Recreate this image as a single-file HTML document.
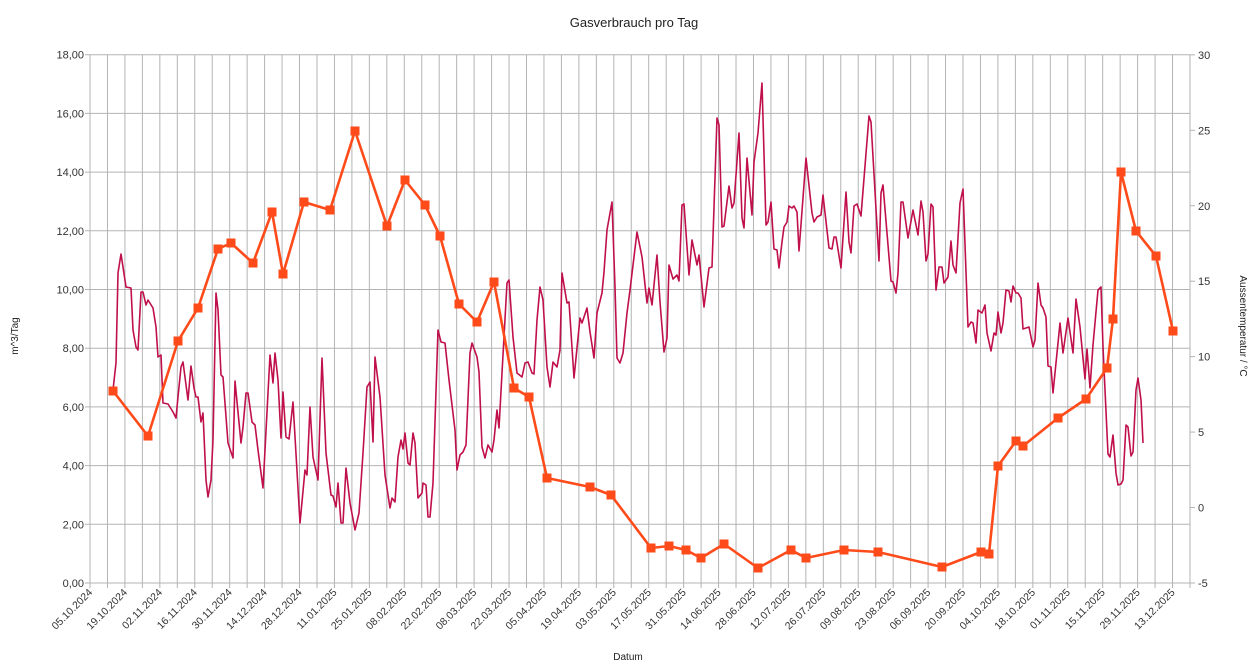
<!DOCTYPE html>
<html><head><meta charset="utf-8"><style>
html,body{margin:0;padding:0;background:#fff;}
svg{display:block;font-family:"Liberation Sans",sans-serif;}
</style></head><body>
<svg width="1260" height="670" viewBox="0 0 1260 670" xmlns="http://www.w3.org/2000/svg">
<rect width="1260" height="670" fill="#fff"/>
<g id="grid" stroke="#b3b3b3" stroke-width="1"></g>
<g id="labels" font-size="11" fill="#333"></g>
<text x="634" y="27" font-size="13" text-anchor="middle" fill="#222">Gasverbrauch pro Tag</text>
<text x="628" y="660" font-size="10" text-anchor="middle" fill="#222">Datum</text>
<text transform="translate(18,336) rotate(-90)" font-size="10" text-anchor="middle" fill="#222">m^3/Tag</text>
<text transform="translate(1240,326) rotate(90)" font-size="10" text-anchor="middle" fill="#222">Aussentemperatur / °C</text>
<polyline fill="none" stroke="#c0104a" stroke-width="1.6" stroke-linejoin="round" points="113,390 116,363 118,273 121,254 123,267 126,287 131,288 133,330 136,347 138,350 141,292 143,292 146,305 148,300 153,308 156,327 158,357 161,355 163,403 168,404 173,412 176,418 178,397 181,367 183,362 188,400 191,366 194,388 196,397 198,397 201,422 203,413 206,480 208,497 211,480 213,440 216,293 218,310 221,375 223,377 228,443 233,458 235,381 241,443 243,427 246,393 248,393 252,422 255,425 258,450 263,488 270,355 273,383 275,353 278,380 281,438 283,392 286,437 289,439 293,402 300,523 305,470 307,475 310,407 313,457 318,480 322,358 326,453 331,495 333,496 336,507 338,483 341,523 343,523 346,468 350,503 355,530 359,513 363,453 367,387 370,382 373,442 375,357 380,397 385,475 390,508 392,498 395,502 398,457 401,440 403,449 405,433 408,463 410,465 413,433 415,443 418,498 422,493 423,483 426,485 428,517 430,517 433,483 438,330 441,342 445,343 449,380 455,430 457,470 460,455 463,452 466,445 470,353 472,343 477,357 479,372 482,447 485,458 488,445 492,452 494,440 497,410 499,428 502,373 507,283 509,280 513,337 517,373 522,377 525,363 528,362 532,373 534,374 537,320 540,287 543,300 547,367 550,387 553,362 557,367 560,350 562,273 567,303 569,302 574,378 580,318 582,323 587,308 590,332 594,358 597,313 602,293 604,272 607,230 612,202 615,287 617,358 620,363 623,353 627,313 630,290 637,232 642,257 647,303 649,288 652,305 657,255 660,302 664,352 667,338 669,265 673,279 677,275 679,281 682,205 684,204 689,275 692,240 697,265 699,255 704,307 709,268 712,267 717,118 719,125 722,227 724,226 729,186 732,208 734,203 739,133 742,218 744,228 747,158 752,215 754,162 758,133 762,83 766,225 768,222 771,202 774,249 777,250 779,268 782,242 784,227 787,222 789,206 792,208 794,206 797,212 799,251 806,158 812,213 814,222 817,217 821,215 823,195 829,248 832,249 834,237 836,237 841,268 846,192 849,242 851,253 854,206 857,204 861,216 869,116 871,122 879,261 881,193 883,185 891,281 893,282 896,293 898,273 901,202 903,202 908,238 913,210 918,235 921,201 923,212 926,261 928,254 931,204 933,207 936,290 939,267 942,267 944,283 948,277 951,241 953,265 956,273 960,203 963,189 968,327 971,322 973,323 976,343 978,310 982,313 985,305 987,333 991,351 994,333 996,335 998,312 1001,333 1003,323 1006,290 1009,291 1011,302 1013,286 1016,293 1018,293 1021,298 1023,329 1029,327 1033,347 1035,340 1038,283 1041,305 1043,308 1046,317 1048,366 1051,367 1053,393 1060,323 1063,353 1068,318 1073,353 1076,299 1080,327 1085,379 1087,349 1090,388 1093,345 1098,290 1101,287 1103,347 1108,454 1110,457 1113,435 1116,473 1118,485 1121,484 1123,480 1126,425 1128,427 1131,456 1133,452 1136,390 1138,378 1141,400 1143,443"/>
<g id="gas"></g>
<script>
(function(){
var ns="http://www.w3.org/2000/svg";
var g=document.getElementById('grid'),L=document.getElementById('labels');
function el(p,t,a){var e=document.createElementNS(ns,t);for(var k in a)e.setAttribute(k,a[k]);p.appendChild(e);return e;}
var x0=90,x1=1190,top=55,bot=583,dx=17.46;
for(var i=0;i<=63;i++){var x=x0+i*dx;if(x>x1+1)break;el(g,'line',{x1:x,y1:top,x2:x,y2:bot+5});}
el(g,'line',{x1:x1,y1:top,x2:x1,y2:bot});
for(var v=0;v<=18;v+=2){var y=bot-v*29.35;el(g,'line',{x1:x0-5,y1:y,x2:x1,y2:y});
 var t=el(L,'text',{x:84,y:y+4,'text-anchor':'end'});t.textContent=v.toFixed(2).replace('.',',');}
for(var tv=-5;tv<=30;tv+=5){var y=bot-(tv+5)*15.09;el(g,'line',{x1:x1,y1:y,x2:x1+5,y2:y});
 var t=el(L,'text',{x:1198,y:y+4});t.textContent=tv;}
var d0=new Date(2024,9,5);
for(var k=0;k<=31;k++){var d=new Date(d0.getTime()+k*14*86400000+3600000*12);
 var s=('0'+d.getDate()).slice(-2)+'.'+('0'+(d.getMonth()+1)).slice(-2)+'.'+d.getFullYear();
 var x=x0+k*2*dx;var t=el(L,'text',{transform:'translate('+(x+3)+','+(bot+10)+') rotate(-45)','text-anchor':'end','font-size':'10.5'});t.textContent=s;}
var P=[[113,391],[148,436],[178,341],[198,308],[218,249],[231,243],[253,263],[272,212],[283,274],[304,202],[330,210],[355,131],[387,226],[405,180],[425,205],[440,236],[459,304],[477,322],[494,282],[514,388],[529,397],[547,478],[590,487],[611,495],[651,548],[669,546],[686,550],[701,558],[724,544],[758,568],[791,550],[806,558],[844,550],[878,552],[942,567],[981,552],[989,554],[998,466],[1016,441],[1023,446],[1058,418],[1086,399],[1107,368],[1113,319],[1121,172],[1136,231],[1156,256],[1173,331]];
var G=document.getElementById('gas');
el(G,'polyline',{points:P.map(function(p){return p.join(',')}).join(' '),fill:'none',stroke:'#ff4a1a','stroke-width':2.6,'stroke-linejoin':'round'});
P.forEach(function(p){el(G,'rect',{x:p[0]-4.5,y:p[1]-4.5,width:9,height:9,fill:'#ff4a1a'});});
})();
</script>
</svg>
</body></html>
